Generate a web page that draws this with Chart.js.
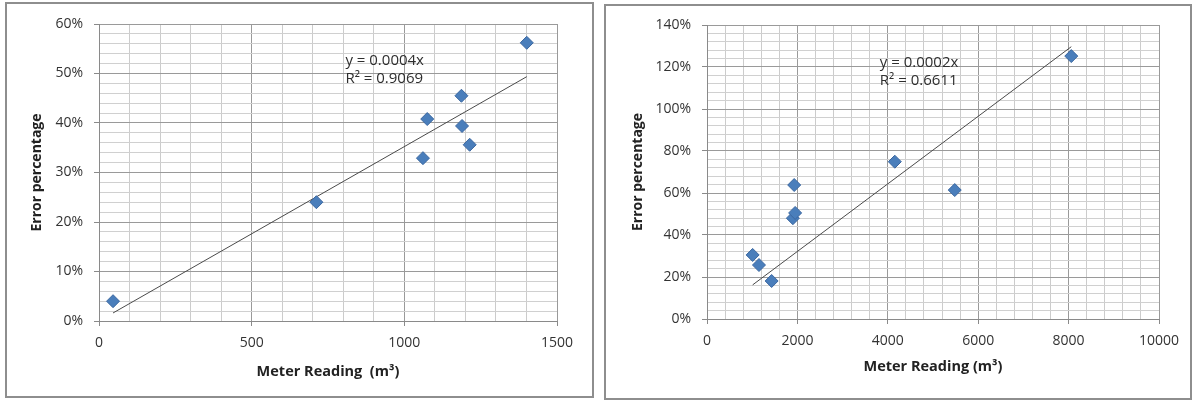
<!DOCTYPE html>
<html>
<head>
<meta charset="utf-8">
<script src="https://cdn.jsdelivr.net/npm/chart.js@4.4.1/dist/chart.umd.min.js"></script>
<style>
  body { margin: 0; background: #fff; width: 1200px; height: 401px; position: relative; overflow: hidden; }
  .caja { position: absolute; border: 2px solid #8e8e8e; box-sizing: border-box; background: #fff; }
  canvas { position: absolute; top: 0; }
</style>
</head>
<body>
<div class="caja" style="left:5px; top:2px; width:589px; height:396px;"></div>
<div class="caja" style="left:604px; top:4px; width:588px; height:396px;"></div>
<canvas id="graficaIzq" width="600" height="401" style="left:0"></canvas>
<canvas id="graficaDer" width="600" height="401" style="left:600px"></canvas>
<script>
// --- DATOS ---
const lecturaIzq = [46, 712, 1061, 1075, 1187, 1189, 1214, 1401];
const errorIzq   = [0.040, 0.240, 0.329, 0.408, 0.455, 0.394, 0.356, 0.562];
const ecuacionIzq = ['y = 0.0004x', 'R\u00B2 = 0.9069'];

const lecturaDer = [1010, 1150, 1430, 1900, 1950, 1929, 4155, 5481, 8059];
const errorDer   = [0.305, 0.257, 0.181, 0.480, 0.505, 0.638, 0.749, 0.614, 1.252];
const ecuacionDer = ['y = 0.0002x', 'R\u00B2 = 0.6611'];

const FUENTE = "'Open Sans', 'DejaVu Sans', sans-serif";

// pendiente por minimos cuadrados con intercepto en cero (linea de tendencia de Excel)
function pendiente(xs, ys) {
    let sxy = 0, sxx = 0;
    xs.forEach((x, i) => { sxy += x * ys[i]; sxx += x * x; });
    return sxy / sxx;
}

function esMayor(v, paso) {
    const q = v / paso;
    return Math.abs(q - Math.round(q)) < 1e-6;
}

// texto de la ecuacion en coordenadas de datos
const pluginEcuacion = {
    id: 'ecuacion',
    afterDatasetsDraw(chart, args, opts) {
        const ctx = chart.ctx;
        const px = chart.scales.x.getPixelForValue(opts.x);
        const py = chart.scales.y.getPixelForValue(opts.y);
        ctx.save();
        ctx.font = '15px ' + FUENTE;
        ctx.fillStyle = '#2e2e2e';
        ctx.textBaseline = 'middle';
        ctx.textAlign = 'left';
        opts.lineas.forEach((t, i) => ctx.fillText(t, px, py + i * 18));
        ctx.restore();
    }
};

function crearGrafica(id, xs, ys, cfg) {
    const m = pendiente(xs, ys);
    const xmin = Math.min(...xs), xmax = Math.max(...xs);
    const puntos = xs.map((x, i) => ({ x: x, y: ys[i] }));

    return new Chart(document.getElementById(id), {
        type: 'scatter',
        data: {
            datasets: [{
                data: puntos,
                pointStyle: 'rectRot',
                pointRadius: 6.5,
                backgroundColor: '#4a7ebb',
                borderColor: '#3b67a0',
                borderWidth: 1
            }, {
                data: [{ x: xmin, y: m * xmin }, { x: xmax, y: m * xmax }],
                showLine: true,
                pointRadius: 0,
                borderColor: '#4a4a4a',
                borderWidth: 1
            }]
        },
        options: {
            responsive: false,
            animation: false,
            layout: { padding: { top: cfg.arriba, right: cfg.derecha, left: 0, bottom: 0 } },
            plugins: {
                legend: { display: false },
                tooltip: { enabled: false },
                ecuacion: { x: cfg.ecX, y: cfg.ecY, lineas: cfg.ecuacion }
            },
            scales: {
                x: {
                    type: 'linear',
                    min: 0, max: cfg.xmax,
                    afterFit: s => { s.height = cfg.altoX; },
                    ticks: {
                        stepSize: cfg.xpaso, autoSkip: false, maxRotation: 0, padding: 9,
                        color: '#333', font: { family: FUENTE, size: 14 },
                        callback: v => esMayor(v, cfg.xmayor) ? String(Math.round(v)) : ''
                    },
                    grid: {
                        tickLength: 5,
                        color: c => esMayor(c.tick.value, cfg.xmayor) ? '#9a9a9a' : '#cccccc',
                        tickColor: c => esMayor(c.tick.value, cfg.xmayor) ? '#8a8a8a' : 'rgba(0,0,0,0)'
                    },
                    border: { color: '#8a8a8a' },
                    title: {
                        display: true, text: cfg.tituloX, color: '#222',
                        font: { family: FUENTE, size: 14.5, weight: 'bold' },
                        padding: { top: 0, bottom: cfg.padTituloX }
                    }
                },
                y: {
                    min: 0, max: cfg.ymax,
                    afterFit: s => { s.width = cfg.anchoY; },
                    ticks: {
                        stepSize: cfg.ypaso, autoSkip: false, padding: 11,
                        color: '#333', font: { family: FUENTE, size: 14 },
                        callback: v => esMayor(v, cfg.ymayor) ? Math.round(v * 100) + '%' : ''
                    },
                    grid: {
                        tickLength: 5,
                        color: c => esMayor(c.tick.value, cfg.ymayor) ? '#9a9a9a' : '#d0d0d0',
                        tickColor: c => esMayor(c.tick.value, cfg.ymayor) ? '#8a8a8a' : 'rgba(0,0,0,0)'
                    },
                    border: { color: '#8a8a8a' },
                    title: {
                        display: true, text: 'Error percentage', color: '#222',
                        font: { family: FUENTE, size: 14, weight: 'bold' },
                        padding: { top: cfg.padTituloY, bottom: 0 }
                    }
                }
            }
        },
        plugins: [pluginEcuacion]
    });
}

const graficaIzq = crearGrafica('graficaIzq', lecturaIzq, errorIzq, {
    xmax: 1500, xpaso: 100, xmayor: 500,
    ymax: 0.6, ypaso: 0.02, ymayor: 0.1,
    arriba: 24, derecha: 43, anchoY: 99, altoX: 80,
    tituloX: 'Meter Reading  (m\u00B3)', padTituloX: 20, padTituloY: 29,
    ecX: 807, ecY: 0.525, ecuacion: ecuacionIzq
});

const graficaDer = crearGrafica('graficaDer', lecturaDer, errorDer, {
    xmax: 10000, xpaso: 400, xmayor: 2000,
    ymax: 1.4, ypaso: 0.04, ymayor: 0.2,
    arriba: 25, derecha: 41, anchoY: 107, altoX: 82,
    tituloX: 'Meter Reading (m\u00B3)', padTituloX: 25, padTituloY: 30,
    ecX: 3823, ecY: 1.22, ecuacion: ecuacionDer
});
</script>
</body>
</html>
